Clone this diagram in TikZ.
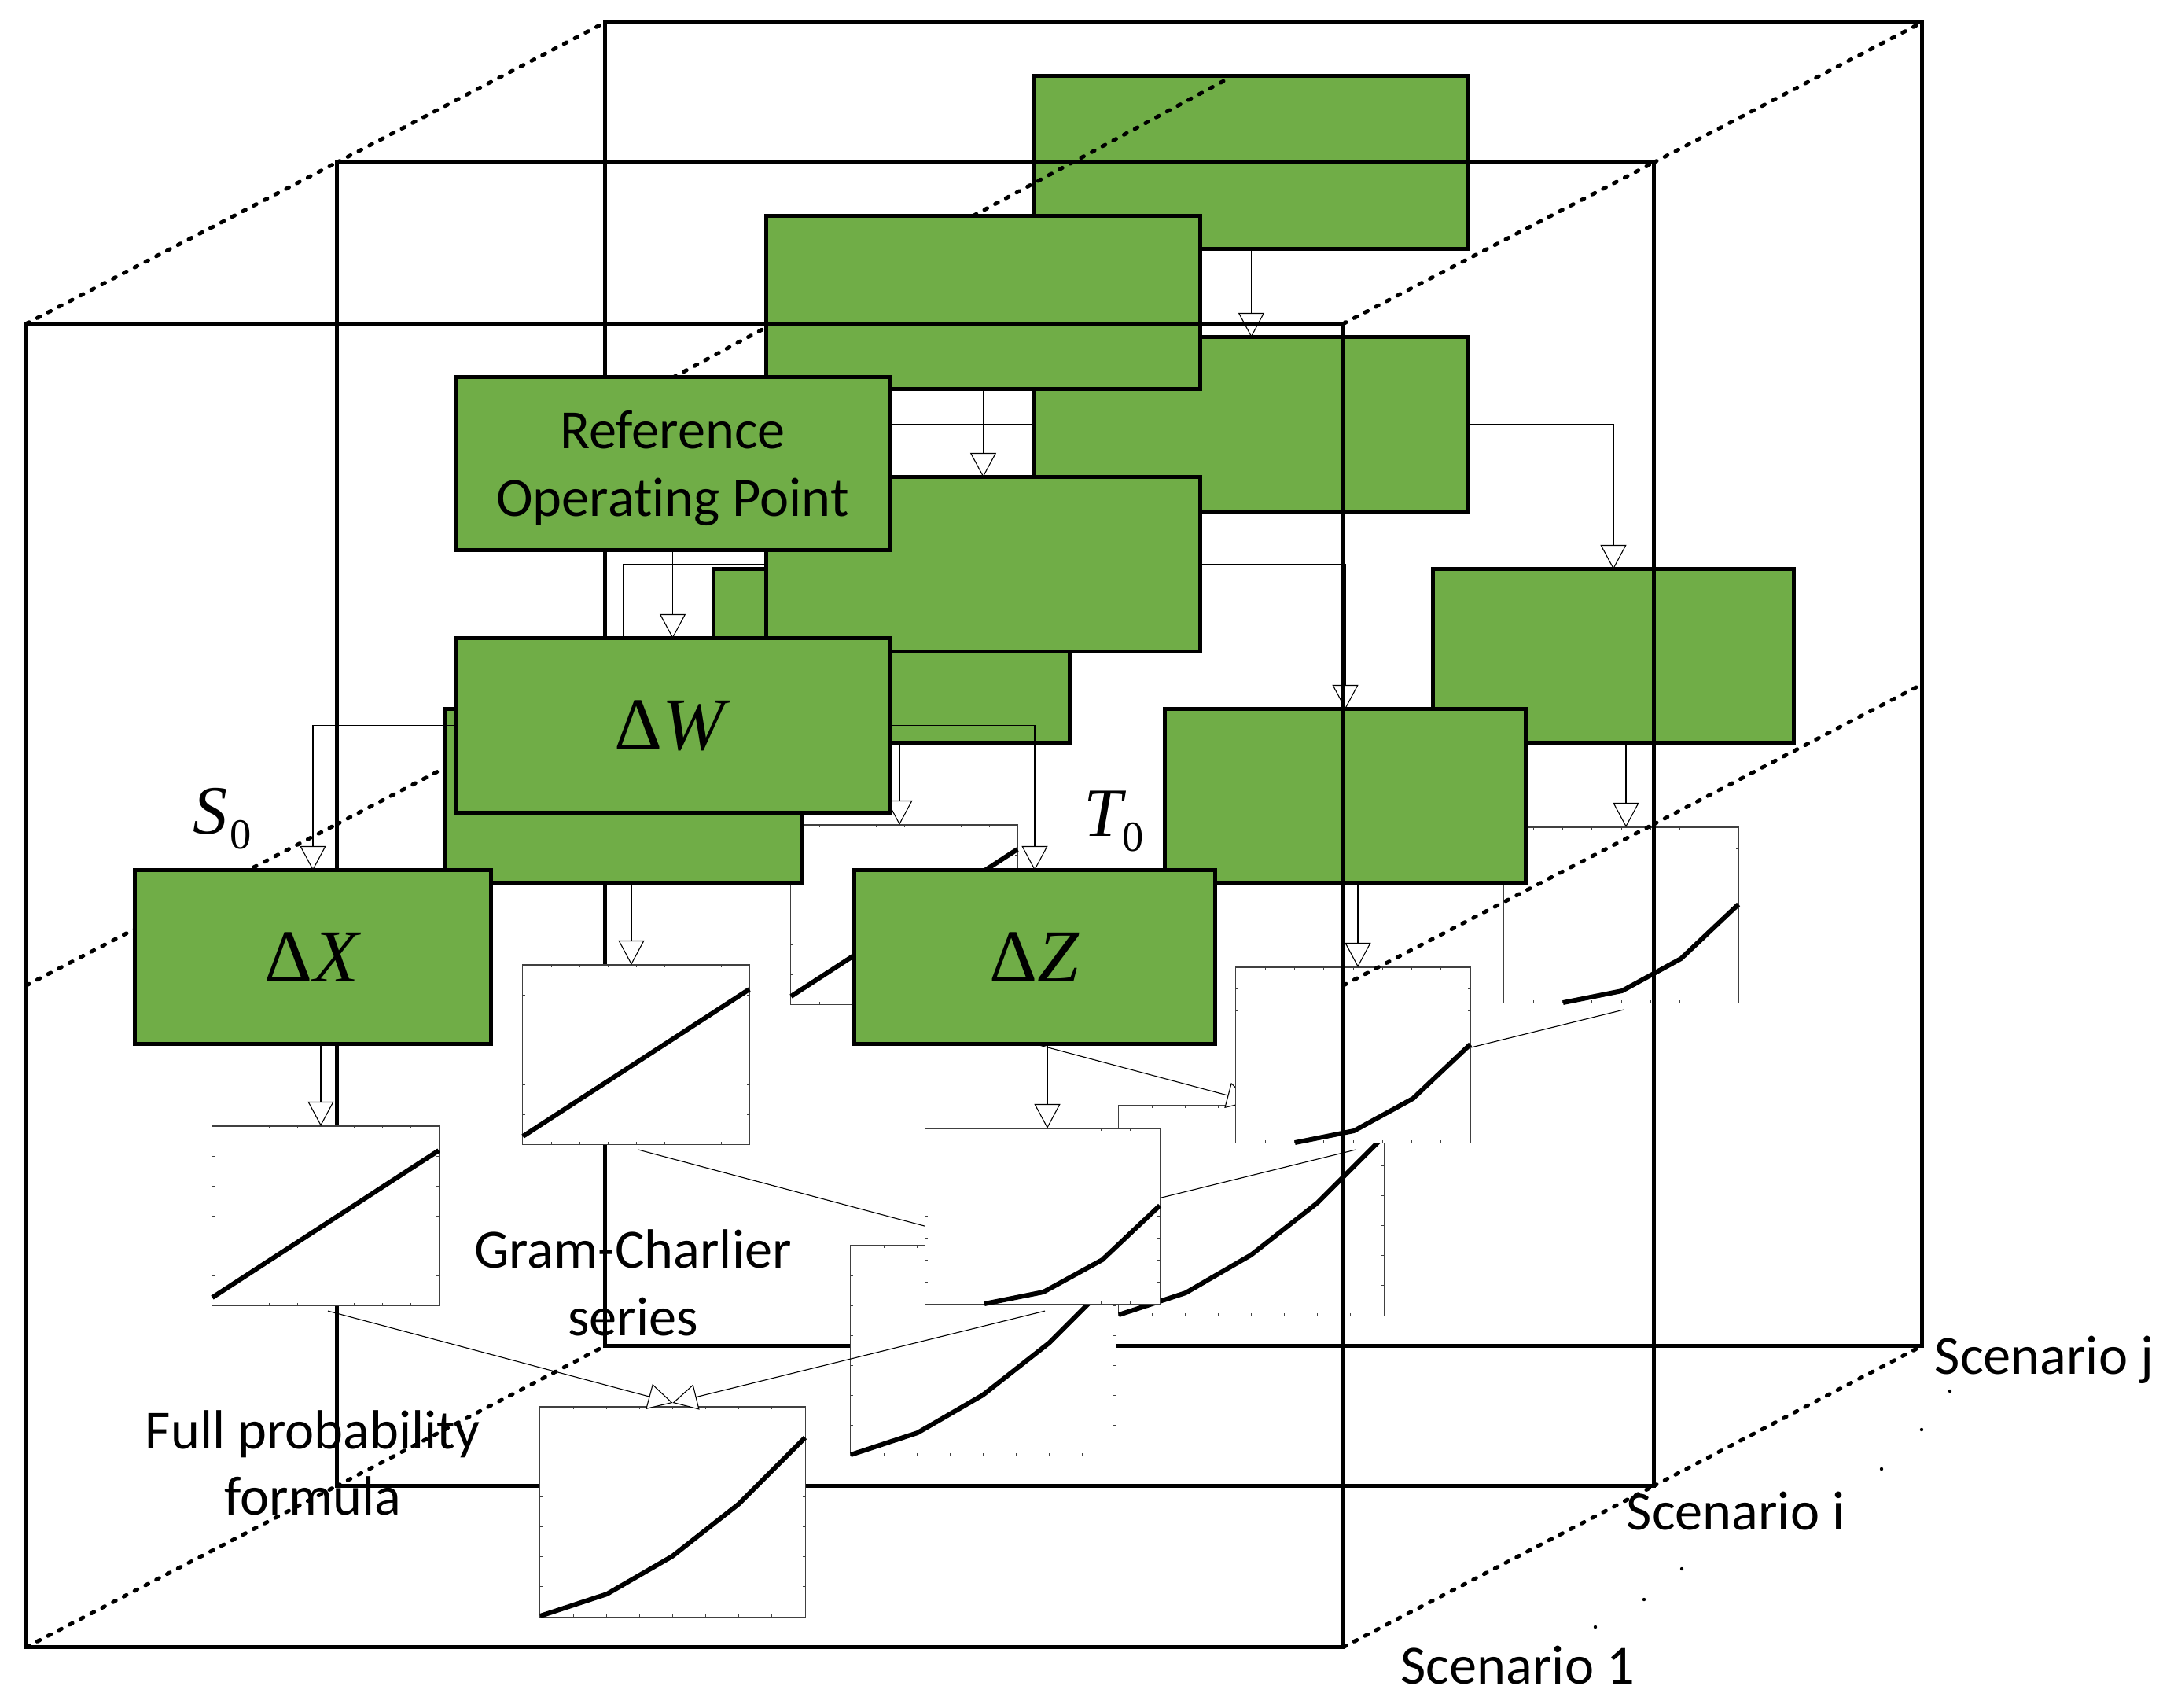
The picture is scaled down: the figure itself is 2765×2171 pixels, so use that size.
\documentclass[tikz,border=0pt]{standalone}
\usepackage{fontspec}
\setmainfont{Carlito}[Ligatures=NoCommon]
\newfontfamily\tnr{Liberation Serif}
\usetikzlibrary{arrows.meta,calc}
\definecolor{boxgreen}{HTML}{70AD47}
\definecolor{plotgray}{HTML}{404040}

\newcommand\myticks[6]{%
  \foreach \k in {1,...,#5}{
    \draw[tickl] ({#1+(#3-#1)*\k/(#5+1)},#2) -- ++(0,3);
    \draw[tickl] ({#1+(#3-#1)*\k/(#5+1)},#4) -- ++(0,-3);
  }
  \foreach \k in {1,...,#6}{
    \draw[tickl] (#1,{#2+(#4-#2)*\k/(#6+1)}) -- ++(3,0);
    \draw[tickl] (#3,{#2+(#4-#2)*\k/(#6+1)}) -- ++(-3,0);
  }
}

\newcommand\drawscen[1]{%
  \node[gbox, minimum width=5.51cm, minimum height=2.19cm] (ref#1) at (855.5,589.5) {};
  \node[gbox, minimum width=5.51cm, minimum height=2.21cm] (dW#1) at (855.5,922.5) {};
  \node[gbox, minimum width=4.52cm, minimum height=2.20cm] (dX#1) at (398,1217) {};
  \node[gbox, minimum width=4.58cm, minimum height=2.20cm] (dZ#1) at (1316,1217) {};
  \node[pbox, minimum width=2.88cm, minimum height=2.28cm] (pX#1) at (414,1546) {};
  \myticks{270}{1432}{558}{1660}{7}{5}
  \draw[curvel] (270,1650) -- (558,1463);
  \node[pbox, minimum width=2.98cm, minimum height=2.23cm] (pZ#1) at (1326,1546.5) {};
  \myticks{1177}{1435}{1475}{1658}{7}{7}
  \draw[curvel] (1252,1658) -- (1327,1643) -- (1402,1602) -- (1475,1533);
  \node[pbox, minimum width=3.37cm, minimum height=2.67cm] (pP#1) at (855.5,1922.5) {};
  \myticks{687}{1789}{1024}{2056}{7}{6}
  \draw[curvel] (687,2055) -- (772,2027) -- (855,1979) -- (939,1913) -- (1024,1828);
  \draw[conn] (ref#1.south) -- (dW#1.north);
  \draw[conn] (dW#1.west) -| (dX#1.north);
  \draw[conn] (dW#1.east) -| (dZ#1.north);
  \coordinate (xs#1) at ([xshift=0.10cm]dX#1.south);
  \draw[conn] (xs#1) -- (xs#1 |- pX#1.north);
  \coordinate (zs#1) at ([xshift=0.16cm]dZ#1.south);
  \draw[conn] (zs#1) -- (zs#1 |- pZ#1.north);
  \coordinate (xb#1) at ([xshift=0.03cm,yshift=-0.07cm]pX#1.south);
  \coordinate (zb#1) at ([xshift=0.03cm,yshift=-0.09cm]pZ#1.south);
  \coordinate (pt#1) at ([yshift=0.05cm]pP#1.north);
  \draw[conn] (xb#1) -- (pt#1);
  \draw[conn] (zb#1) -- (pt#1);
}

\begin{document}
\begin{tikzpicture}[x=0.01cm,y=-0.01cm,
  gbox/.style={draw=black, line width=0.05cm, fill=boxgreen, inner sep=0pt, outer sep=0pt},
  pbox/.style={draw=plotgray, line width=0.011cm, fill=white, inner sep=0pt, outer sep=0pt},
  tickl/.style={draw=plotgray, line width=0.01cm},
  curvel/.style={line width=0.06cm, line join=round},
  conn/.style={draw=black, line width=0.011cm, -{Triangle[open, fill=white, length=0.31cm, width=0.33cm]}},
  framebox/.style={draw=black, line width=0.047cm, inner sep=0pt, outer sep=0pt, minimum width=16.74cm, minimum height=16.82cm},
  dotl/.style={line width=0.05cm, dash pattern=on 0.04cm off 0.115cm, line cap=round},
  lab/.style={font=\fontsize{20}{24}\selectfont, inner sep=0pt, anchor=base},
  dlab/.style={font=\tnr\fontsize{27}{27}\selectfont, inner sep=0pt},
]
\useasboundingbox (0,0) rectangle (2765,2171);

% ---- scenario j (back)
\node[framebox] (Fj) at (1607,1253-383) {};
\begin{scope}[shift={(736,-383)}]
  \drawscen{j}
\end{scope}

% ---- scenario i (middle)
\node[framebox] (Fi) at (1266,1253-205) {};
\draw[dotl] (Fi.north west) -- (Fj.north west);
\draw[dotl] (Fi.north east) -- (Fj.north east);
\draw[dotl] (Fi.west) -- (Fj.west);
\draw[dotl] (Fi.east) -- (Fj.east);
\draw[dotl] (Fi.south west) -- (Fj.south west);
\draw[dotl] (Fi.south east) -- (Fj.south east);
\coordinate (tmA) at (856,480);
\coordinate (tmB) at (1560,101);
\draw[dotl] (tmA) -- (tmB);
\begin{scope}[shift={(395,-205)}]
  \drawscen{i}
\end{scope}

% ---- scenario 1 (front)
\node[framebox] (F1) at (871,1253) {};
\draw[dotl] (F1.north west) -- (Fi.north west);
\draw[dotl] (F1.north east) -- (Fi.north east);
\draw[dotl] (F1.west) -- (Fi.west);
\draw[dotl] (F1.east) -- (Fi.east);
\draw[dotl] (F1.south west) -- (Fi.south west);
\draw[dotl] (F1.south east) -- (Fi.south east);
\drawscen{1}

% ---- labels
\node[lab] (t1) at (855.5,570) {Reference};
\node[lab] (t2) at (855.5,656) {Operating Point};
\node[dlab] (lW) at (dW1) {Δ\textit{W}};
\node[dlab] (lX) at (dX1) {Δ\textit{X}};
\node[dlab] (lZ) at (dZ1) {Δ\textit{Z}};
\node[inner sep=0pt, anchor=base west, font=\tnr\fontsize{25}{25}\selectfont] (S0) at (245,1060) {\textit{S}\kern0.03em\raisebox{-5.4pt}{\fontsize{15.5}{15.5}\selectfont 0}};
\node[inner sep=0pt, anchor=base west, font=\tnr\fontsize{25}{25}\selectfont] (T0) at (1378,1063) {\textit{T}\kern-0.06em\raisebox{-5.4pt}{\fontsize{15.5}{15.5}\selectfont 0}};
\node[lab] (g1) at (805,1612) {Gram-Charlier};
\node[lab] (g2) at (805,1698) {series};
\node[lab] (f1) at (398,1842) {Full probability};
\node[lab] (f2) at (398,1926) {formula};
\node[lab, anchor=base west] (sj) at (2460,1747) {Scenario j};
\node[lab, anchor=base west] (si) at (2068,1945) {Scenario i};
\node[lab, anchor=base west] (s1) at (1781,2141) {Scenario 1};
\foreach \p in {(2480,1769),(2444,1818),(2393,1868),(2139,1995),(2091,2034),(2029,2069)}
  \fill \p circle (0.022cm);
\end{tikzpicture}
\end{document}
